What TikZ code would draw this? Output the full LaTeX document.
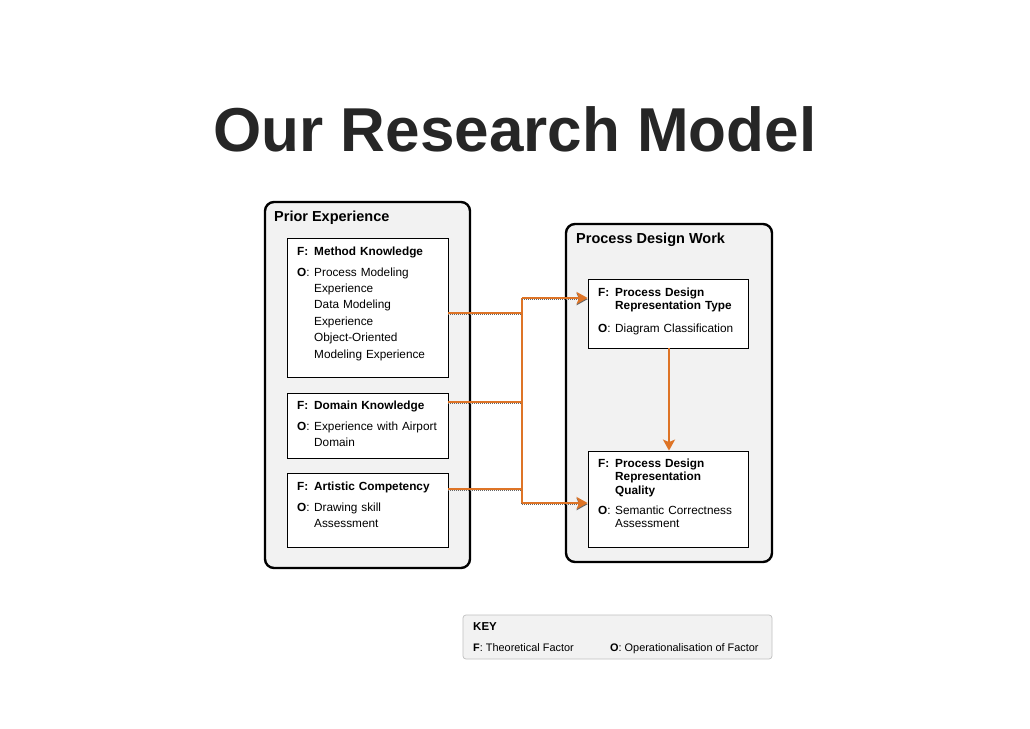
\documentclass[tikz,border=0pt]{standalone}
\usepackage{fontspec}
\setmainfont{Liberation Sans}
\usetikzlibrary{arrows.meta,calc}
\definecolor{ora}{RGB}{222,116,38}
\definecolor{boxgray}{RGB}{242,242,242}
\definecolor{titlegray}{RGB}{38,38,38}
\begin{document}
\begin{tikzpicture}[x=1pt,y=-1pt,
  outerbox/.style={draw=black, line width=2.4pt, fill=boxgray, rounded corners=9pt, inner sep=0pt},
  inbox/.style={draw=black, line width=0.8pt, fill=white, inner sep=0pt},
  keybox/.style={draw=black!25, line width=0.7pt, fill=boxgray, rounded corners=3pt, inner sep=0pt},
  txt/.style={anchor=base west, inner sep=0pt, font=\fontsize{11.8}{16.4}\selectfont},
  ktxt/.style={anchor=base west, inner sep=0pt, font=\fontsize{10.9}{14}\selectfont},
  lbl/.style={anchor=base west, inner sep=0pt, font=\fontsize{14.5}{17}\selectfont\bfseries},
  mtxt/.style={txt, text width=135pt, align=left},
  ntxt/.style={txt, text width=135pt, align=left, font=\fontsize{11.8}{13.6}\selectfont},
  conn/.style={draw=ora, line width=2.1pt,
    preaction={draw=black!60, line width=1.6pt, dash pattern=on 1pt off 1pt, transform canvas={yshift=-1.2pt}}},
  tip/.style={-{Stealth[length=11pt,width=12pt,inset=2.5pt]}}
]
\useasboundingbox (0,0) rectangle (1030,728);
\fill[white] (0,0) rectangle (1030,728);

% title
\node[anchor=base, inner sep=0pt, font=\fontsize{62}{70}\selectfont\bfseries, text=titlegray] (title) at (515,151) {Our Research Model};

% outer boxes
\node[outerbox, minimum width=205pt, minimum height=366pt] (prior) at (367.5,385) {};
\node[outerbox, minimum width=206pt, minimum height=338pt] (pdw) at (669,393) {};
\node[lbl] (priorlbl) at (274,221) {Prior Experience};
\node[lbl] (pdwlbl) at (576,243) {Process Design Work};

% inner boxes
\node[inbox, minimum width=161pt, minimum height=139pt] (m) at (367.5,307.5) {};
\node[inbox, minimum width=161pt, minimum height=65pt] (d) at (367.5,425.5) {};
\node[inbox, minimum width=161pt, minimum height=74pt] (ac) at (367.5,510) {};
\node[inbox, minimum width=160pt, minimum height=69pt] (a) at (668,313.5) {};
\node[inbox, minimum width=160pt, minimum height=96pt] (b) at (668,499) {};

% box m
\node[txt] (mF) at (297,255) {\textbf{F:}};
\node[mtxt] (mFt) at (314,255) {\textbf{Method Knowledge}};
\node[txt] (mO) at (297,276) {\textbf{O}:};
\node[mtxt] (mOt) at (314,276) {Process Modeling\\Experience\\Data Modeling\\Experience\\Object-Oriented\\Modeling Experience};

% box d
\node[txt] (dF) at (297,409) {\textbf{F:}};
\node[mtxt] (dFt) at (314,409) {\textbf{Domain Knowledge}};
\node[txt] (dO) at (297,430) {\textbf{O}:};
\node[mtxt] (dOt) at (314,430) {Experience with Airport\\Domain};

% box ac
\node[txt] (acF) at (297,490) {\textbf{F:}};
\node[mtxt] (acFt) at (314,490) {\textbf{Artistic Competency}};
\node[txt] (acO) at (297,511) {\textbf{O}:};
\node[mtxt] (acOt) at (314,511) {Drawing skill\\Assessment};

% box a
\node[txt] (aF) at (598,296) {\textbf{F:}};
\node[ntxt] (aFt) at (615,296) {\textbf{Process Design}\\\textbf{Representation Type}};
\node[txt] (aO) at (598,332) {\textbf{O}:};
\node[ntxt] (aOt) at (615,332) {Diagram Classification};

% box b
\node[txt] (bF) at (598,467) {\textbf{F:}};
\node[ntxt] (bFt) at (615,467) {\textbf{Process Design}\\\textbf{Representation}\\\textbf{Quality}};
\node[txt] (bO) at (598,514) {\textbf{O}:};
\node[ntxt] (bOt) at (615,514) {Semantic Correctness\\Assessment};

% key
\node[keybox, minimum width=309pt, minimum height=44pt] (key) at (617.5,637) {};
\node[ktxt, font=\fontsize{11.5}{14}\selectfont\bfseries] (keyt) at (473,630) {KEY};
\node[ktxt] (keyF) at (473,651) {\textbf{F}: Theoretical Factor};
\node[ktxt] (keyO) at (610,651) {\textbf{O}: Operationalisation of Factor};

% connectors
\coordinate (jt) at (522,298);
\coordinate (jb) at (522,503);
\draw[conn] ($(m.east)+(0,5.5)$) -| (jt);
\draw[conn] ($(d.east)+(0,-23.5)$) -| (jt);
\draw[conn] ($(ac.east)+(0,-21)$) -| (jb);
\draw[conn] (jt) -- (jb);
\draw[conn,tip] (jt) -- (jt -| a.west);
\draw[conn,tip] (jb) -- (jb -| b.west);
\draw[draw=ora, line width=2.1pt, tip] (a.south -| 669,0) -- (b.north -| 669,0);
\end{tikzpicture}
\end{document}
